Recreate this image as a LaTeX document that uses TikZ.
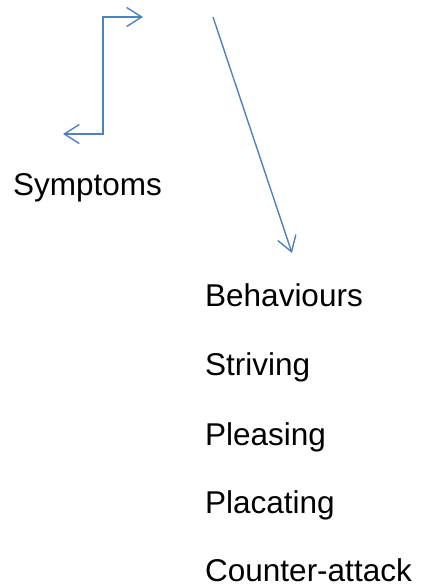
\documentclass[tikz,border=0pt]{standalone}
\usepackage{fontspec}
\setmainfont{Liberation Sans}
\usepackage{tikz}
\usetikzlibrary{arrows.meta}
\definecolor{linkblue}{RGB}{79,129,189}
\tikzstyle{word}=[anchor=base west, inner sep=0pt, font=\fontsize{31.5}{38}\selectfont]
\tikzstyle{link}=[draw=linkblue, line width=1.4pt, arrows={-Straight Barb[length=15pt, width=19pt]}]
\newcommand{\word}{\node[word]}
\begin{document}
\begin{tikzpicture}[x=1pt, y=-1pt]
            \useasboundingbox (0,0) rectangle (425,587);
            \word (symptoms) at (13,195) {Symptoms};
            \word (behaviours) at (205,306) {Behaviours};
            \word (striving) at (205,375) {Striving};
            \word (pleasing) at (205,445) {Pleasing};
            \word (placating) at (205,513) {Placating};
            \word (counter) at (205,581) {Counter-attack};
            \coordinate (elbowtop) at (143,17);
            \coordinate (elbowbot) at (63,134);
            \coordinate (slantstart) at (213,17);
            \coordinate (slantend) at (292,253);
            \draw[link, arrows={Straight Barb[length=15pt, width=19pt]-Straight Barb[length=15pt, width=19pt]}]
                (elbowbot) -| (103,75) |- (elbowtop);
            \draw[link] (slantstart) -- (slantend);
        \end{tikzpicture}
\end{document}
